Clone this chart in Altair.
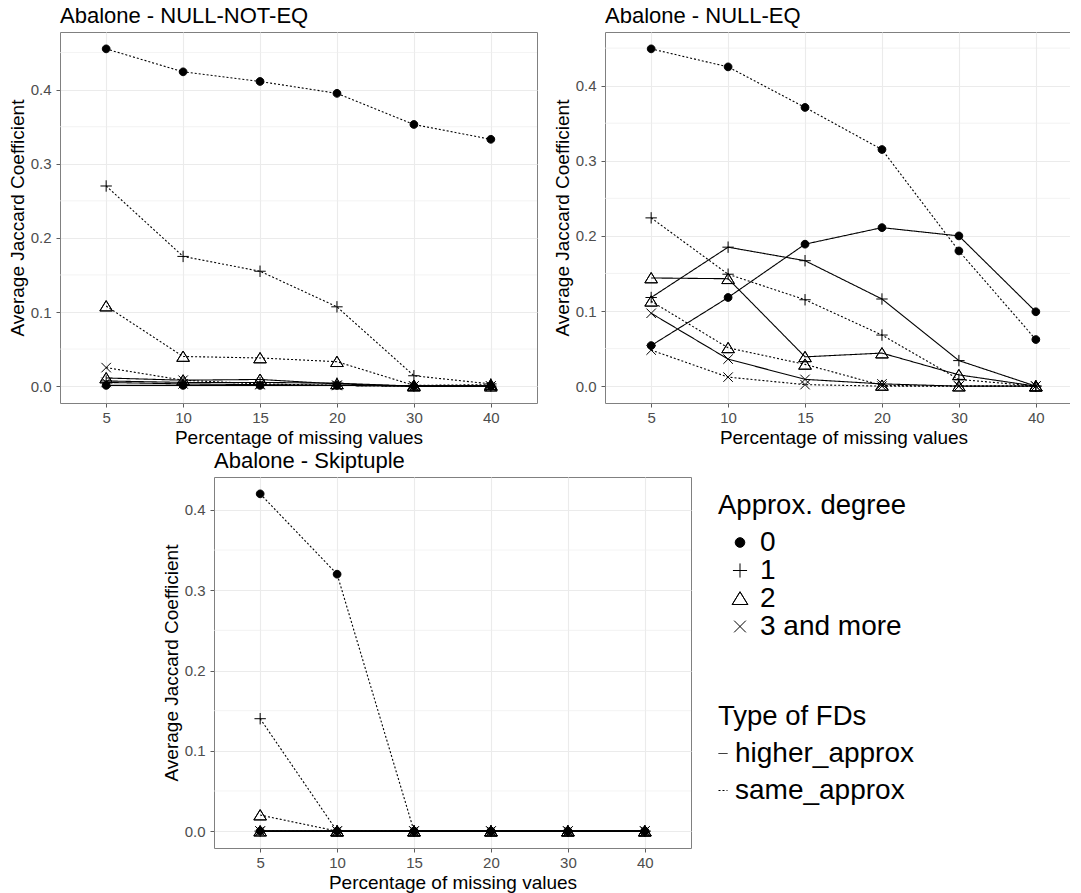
import altair as alt
import pandas as pd

pct = [5, 10, 15, 20, 30, 40]
degrees = ["0", "1", "2", "3 and more"]
fd_types = ["higher_approx", "same_approx"]

# Abalone - NULL-NOT-EQ
nne_same = {
    "0": [0.455, 0.424, 0.411, 0.395, 0.353, 0.333],
    "1": [0.270, 0.175, 0.155, 0.107, 0.014, 0.003],
    "2": [0.108, 0.040, 0.038, 0.033, 0.001, 0.002],
    "3 and more": [0.025, 0.008, 0.003, 0.001, 0.000, 0.000],
}
nne_higher = {
    "0": [0.001, 0.001, 0.001, 0.001, 0.000, 0.000],
    "1": [0.007, 0.005, 0.005, 0.004, 0.000, 0.000],
    "2": [0.011, 0.008, 0.009, 0.003, 0.000, 0.000],
    "3 and more": [0.005, 0.003, 0.002, 0.001, 0.000, 0.000],
}
# Abalone - NULL-EQ
ne_same = {
    "0": [0.449, 0.425, 0.371, 0.315, 0.180, 0.062],
    "1": [0.224, 0.149, 0.115, 0.068, 0.009, 0.000],
    "2": [0.113, 0.051, 0.029, 0.001, 0.000, 0.000],
    "3 and more": [0.048, 0.012, 0.002, 0.000, 0.000, 0.000],
}
ne_higher = {
    "0": [0.054, 0.118, 0.189, 0.211, 0.200, 0.099],
    "1": [0.118, 0.185, 0.167, 0.116, 0.034, 0.000],
    "2": [0.144, 0.143, 0.039, 0.044, 0.015, 0.000],
    "3 and more": [0.097, 0.036, 0.009, 0.003, 0.000, 0.000],
}
# Abalone - Skiptuple
sk_same = {
    "0": [0.420, 0.320, 0.000, 0.000, 0.000, 0.000],
    "1": [0.140, 0.000, 0.000, 0.000, 0.000, 0.000],
    "2": [0.020, 0.000, 0.000, 0.000, 0.000, 0.000],
    "3 and more": [0.000, 0.000, 0.000, 0.000, 0.000, 0.000],
}
sk_higher = {
    "0": [0.000, 0.000, 0.000, 0.000, 0.000, 0.000],
    "1": [0.000, 0.000, 0.000, 0.000, 0.000, 0.000],
    "2": [0.000, 0.000, 0.000, 0.000, 0.000, 0.000],
    "3 and more": [0.000, 0.000, 0.000, 0.000, 0.000, 0.000],
}

y_ticks = [0.0, 0.1, 0.2, 0.3, 0.4]
y_minor = [0.05, 0.15, 0.25, 0.35, 0.45]

FONT = "Liberation Sans"
PW, PH = 477, 371

# symbol paths inside the unit box [-1, 1]
SYM_DOT = "M-0.68,0A0.68,0.68 0 1,0 0.68,0A0.68,0.68 0 1,0 -0.68,0Z"
SYM_PLUS = "M-1,0L1,0M0,-1L0,1"
# outline drawn twice with opposite winding: stroked, never filled
SYM_TRI = "M0,-0.95L1.1,0.85L-1.1,0.85ZM0,-0.95L-1.1,0.85L1.1,0.85Z"
SYM_CROSS = "M-0.83,-0.83L0.83,0.83M0.83,-0.83L-0.83,0.83"

shape_scale = alt.Scale(domain=degrees, range=[SYM_DOT, SYM_PLUS, SYM_TRI, SYM_CROSS])
stroke_scale = alt.Scale(domain=degrees, range=["black", "black", "black", "black"])
dash_scale = alt.Scale(domain=fd_types, range=[[1, 0], [2, 2]])

deg_legend = alt.Legend(
    title="Approx. degree", orient="none", legendX=658, legendY=460,
    titleFontSize=27.5, labelFontSize=28, titleFontWeight="normal",
    titleColor="black", labelColor="black", titleFont=FONT, labelFont=FONT,
    symbolSize=200, symbolFillColor="black",
    symbolStrokeWidth=1, symbolOpacity=1,
    rowPadding=0, titlePadding=9, symbolOffset=8, labelOffset=6, padding=0,
    labelLimit=400, titleLimit=400,
)
dash_legend = alt.Legend(
    title="Type of FDs", orient="none", legendX=658, legendY=671,
    titleFontSize=27.5, labelFontSize=28, titleFontWeight="normal",
    titleColor="black", labelColor="black", titleFont=FONT, labelFont=FONT,
    symbolSize=81, symbolStrokeColor="black", symbolStrokeWidth=1,
    rowPadding=9, titlePadding=9, symbolOffset={"expr": "-9"},
    labelOffset={"expr": "-2"}, padding=0,
    labelLimit=400, titleLimit=400,
)


def panel(title, same, higher):
    rows = []
    for t, d in (("higher_approx", higher), ("same_approx", same)):
        for deg in degrees:
            for p, v in zip(pct, d[deg]):
                rows.append({"pct": p, "value": v, "degree": deg, "type": t})
    df = pd.DataFrame(rows)
    ymax = df["value"].max()
    lo, hi = -0.05 * ymax, ymax * 1.05
    x = alt.X(
        "pct:O",
        scale=alt.Scale(type="point", padding=0.6),
        axis=alt.Axis(title="Percentage of missing values", labelAngle=0),
    )
    y = alt.Y(
        "value:Q",
        scale=alt.Scale(domain=[lo, hi], nice=False, zero=False),
        axis=alt.Axis(title="Average Jaccard Coefficient", values=y_ticks, format=".1f"),
    )
    minor = pd.DataFrame({"value": [m for m in y_minor if lo < m < hi]})
    grid_minor = alt.Chart(minor).mark_rule(color="#EEEEEE", strokeWidth=0.7).encode(y=y)
    base = alt.Chart(df)
    lines = base.mark_line(color="black", strokeWidth=1.1).encode(
        x=x, y=y,
        strokeDash=alt.StrokeDash("type:N", scale=dash_scale, legend=dash_legend),
        detail="degree:N",
    )
    points = base.mark_point(
        filled=True, fill="black", strokeWidth=1, opacity=1, size=130
    ).encode(
        x=x, y=y,
        shape=alt.Shape("degree:N", scale=shape_scale, legend=deg_legend),
        stroke=alt.Stroke("degree:N", scale=stroke_scale, legend=deg_legend),
    )
    return alt.layer(grid_minor, lines, points).properties(
        width=PW, height=PH,
        title=alt.TitleParams(title, anchor="start", frame="group", fontSize=22,
                              font=FONT, fontWeight="normal", color="black", offset=4),
    )


p1 = panel("Abalone - NULL-NOT-EQ", nne_same, nne_higher)
p2 = panel("Abalone - NULL-EQ", ne_same, ne_higher)
p3 = panel("Abalone - Skiptuple", sk_same, sk_higher)

spacer = alt.Chart(pd.DataFrame({"s": [0]})).mark_point(opacity=0).encode(
    x=alt.value(0), y=alt.value(0)
).properties(width=100, height=10, view=alt.ViewBackground(stroke="transparent"))

top = alt.hconcat(p1, p2, spacing=14)
bottom = alt.hconcat(spacer, p3, spacing=0)

chart = alt.vconcat(top, bottom, spacing=1).resolve_scale(
    x="independent", y="independent", shape="shared", stroke="shared",
    strokeDash="shared",
).properties(
    padding={"left": -1, "top": -4, "right": -13, "bottom": 0}
).configure(font=FONT).configure_view(
    stroke="#808080", strokeWidth=1
).configure_axis(
    grid=True, gridColor="#EBEBEB", gridWidth=1.1, domain=False,
    tickColor="#333333", tickWidth=0.8, tickSize=4,
    labelColor="#4D4D4D", labelFontSize=15, labelFont=FONT,
    titleColor="black", titleFontSize=19, titleFont=FONT, titleFontWeight="normal",
).configure_axisX(labelPadding=3, titlePadding=3).configure_axisY(
    labelPadding=5, titlePadding=3
)

chart.save("out.html", embed_options={"renderer": "svg", "actions": False})
